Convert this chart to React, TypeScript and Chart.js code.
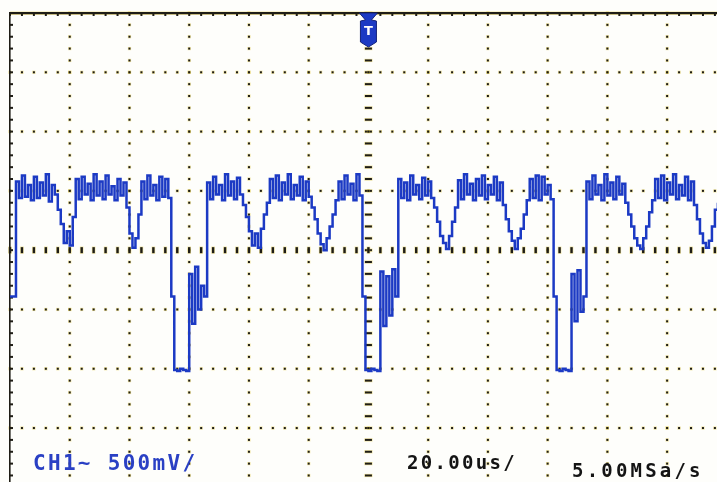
import React, { useEffect, useRef } from "react";
import { Chart, registerables } from "chart.js";

Chart.register(...registerables);

// ---- Time base / view (oscilloscope screen, trigger at centre) ----
const TIME_START_US = -120; // time of first sample
const SAMPLE_STEP_US = 1; // spacing of samples in the trace
const VIEW_TIME_MIN_US = -120;
const VIEW_TIME_MAX_US = 116.7; // photo crops the right edge of the screen
const VIEW_VOLT_MAX = 2.0;
const VIEW_VOLT_MIN = -1.955; // photo crops the bottom edge of the screen
const TIME_PER_DIV_US = 20;
const VOLT_PER_DIV = 0.5;
const SUBDIVS = 5;
const TRIGGER_TIME_US = 0;

// ---- CH1 trace, volts, one sample per microsecond from -120 us ----
const CH1_VOLTS = [
  -0.39, -0.39, 0.58, 0.44, 0.63, 0.45, 0.55, 0.42, 0.62, 0.44, // -120..-111
  0.57, 0.46, 0.64, 0.41, 0.55, 0.47, 0.34, 0.22, 0.06, 0.16, // -110..-101
  0.04, 0.28, 0.6, 0.43, 0.62, 0.47, 0.56, 0.42, 0.64, 0.46, // -100..-91
  0.58, 0.43, 0.63, 0.47, 0.54, 0.42, 0.6, 0.46, 0.57, 0.36, // -90..-81
  0.14, 0.02, 0.1, 0.3, 0.58, 0.43, 0.63, 0.46, 0.55, 0.42, // -80..-71
  0.62, 0.45, 0.6, 0.44, -0.39, -1.01, -1.02, -1.0, -1.01, -1.02, // -70..-61
  -0.2, -0.62, -0.14, -0.5, -0.3, -0.39, 0.57, 0.43, 0.62, 0.47, // -60..-51
  0.55, 0.42, 0.64, 0.46, 0.58, 0.43, 0.61, 0.47, 0.38, 0.28, // -50..-41
  0.16, 0.04, 0.14, 0.02, 0.18, 0.3, 0.4, 0.6, 0.44, 0.63, // -40..-31
  0.42, 0.57, 0.47, 0.64, 0.43, 0.55, 0.46, 0.62, 0.42, 0.58, // -30..-21
  0.45, 0.36, 0.26, 0.14, 0.05, 0.0, 0.1, 0.2, 0.3, 0.42, // -20..-11
  0.58, 0.43, 0.63, 0.47, 0.56, 0.42, 0.64, 0.46, -0.39, -1.01, // -10..-1
  -1.02, -1.0, -1.01, -1.02, -0.18, -0.64, -0.22, -0.55, -0.16, -0.39, // 0..9
  0.6, 0.44, 0.57, 0.42, 0.63, 0.47, 0.55, 0.43, 0.61, 0.46, // 10..19
  0.58, 0.44, 0.36, 0.24, 0.12, 0.06, 0.01, 0.12, 0.24, 0.36, // 20..29
  0.59, 0.43, 0.64, 0.47, 0.56, 0.42, 0.6, 0.46, 0.63, 0.43, // 30..39
  0.55, 0.47, 0.62, 0.42, 0.57, 0.38, 0.26, 0.16, 0.08, 0.01, // 40..49
  0.1, 0.18, 0.3, 0.42, 0.6, 0.44, 0.63, 0.42, 0.62, 0.47, // 50..59
  0.55, 0.43, -0.39, -1.01, -1.02, -1.0, -1.01, -1.02, -0.2, -0.6, // 60..69
  -0.17, -0.52, -0.39, 0.58, 0.43, 0.63, 0.47, 0.55, 0.42, 0.64, // 70..79
  0.46, 0.57, 0.43, 0.62, 0.47, 0.56, 0.4, 0.3, 0.2, 0.1, // 80..89
  0.04, 0.01, 0.1, 0.2, 0.32, 0.42, 0.6, 0.44, 0.63, 0.42, // 90..99
  0.57, 0.47, 0.64, 0.43, 0.55, 0.46, 0.62, 0.42, 0.58, 0.38, // 100..109
  0.26, 0.14, 0.06, 0.02, 0.08, 0.2, 0.34, 0.4, // 110..117
];

// ---- Screen annotations ----
const LABEL_CHANNEL = "CH1~ 500mV/";
const LABEL_TIMEBASE = "20.00us/";
const LABEL_SAMPLE_RATE = "5.00MSa/s";
const TRIGGER_MARK = "T";

const TRACE_COLOR = "#1c3ac4";
const GRID_DARK = "#1f1d16";
const GRID_HALO = "rgba(228, 204, 70, 0.5)";

const graticulePlugin = {
  id: "graticule",
  beforeDatasetsDraw(chart: any) {
    const { ctx, chartArea } = chart;
    const xs = chart.scales.x;
    const ys = chart.scales.y;
    const { left, right, top, bottom } = chartArea;
    ctx.save();
    const mark = (x: number, y: number, w: number, h: number) => {
      ctx.fillStyle = GRID_HALO;
      ctx.fillRect(x - w / 2 - 0.6, y - h / 2 - 0.6, w + 1.2, h + 1.2);
      ctx.fillStyle = GRID_DARK;
      ctx.fillRect(x - w / 2, y - h / 2, w, h);
    };
    const subT = TIME_PER_DIV_US / SUBDIVS;
    const subV = VOLT_PER_DIV / SUBDIVS;
    const nT = Math.floor((VIEW_TIME_MAX_US - VIEW_TIME_MIN_US) / subT + 1e-6);
    const nV = Math.floor((VIEW_VOLT_MAX - VIEW_VOLT_MIN) / subV + 1e-6);
    const nDivT = Math.floor((VIEW_TIME_MAX_US - VIEW_TIME_MIN_US) / TIME_PER_DIV_US);
    const nDivV = Math.floor((VIEW_VOLT_MAX - VIEW_VOLT_MIN) / VOLT_PER_DIV);

    for (let k = 1; k <= nDivT; k++) {
      const t = VIEW_TIME_MIN_US + k * TIME_PER_DIV_US;
      const x = xs.getPixelForValue(t);
      if (x > right) continue;
      const centre = Math.abs(t - TRIGGER_TIME_US) < 1e-6;
      for (let j = 0; j <= nV; j++) {
        const y = ys.getPixelForValue(VIEW_VOLT_MAX - j * subV);
        if (centre) mark(x, y, 7, 2);
        else mark(x, y, 2, 2);
      }
    }
    for (let m = 1; m <= nDivV; m++) {
      const v = VIEW_VOLT_MAX - m * VOLT_PER_DIV;
      const y = ys.getPixelForValue(v);
      const centre = Math.abs(v) < 1e-6;
      for (let j = 0; j <= nT; j++) {
        const x = xs.getPixelForValue(VIEW_TIME_MIN_US + j * subT);
        if (centre) mark(x, y, 2.4, 6);
        else mark(x, y, 2, 2);
      }
    }
    ctx.fillStyle = GRID_HALO;
    ctx.fillRect(left, top - 1.5, right - left, 3.5);
    ctx.fillStyle = GRID_DARK;
    ctx.fillRect(left - 1, top - 1, right - left + 1, 2.2);
    ctx.fillRect(left - 1, top - 1, 1.6, bottom - top + 1);
    for (let j = 0; j <= nT; j++) {
      const x = xs.getPixelForValue(VIEW_TIME_MIN_US + j * subT);
      ctx.fillRect(x - 1, top, 2, 3);
    }
    for (let j = 0; j <= nV; j++) {
      const y = ys.getPixelForValue(VIEW_VOLT_MAX - j * subV);
      ctx.fillRect(left, y - 1, 3, 2);
    }
    ctx.restore();
  },
  afterDatasetsDraw(chart: any) {
    const { ctx, chartArea } = chart;
    const cx = chart.scales.x.getPixelForValue(TRIGGER_TIME_US);
    const top = chartArea.top;
    ctx.save();
    ctx.fillStyle = TRACE_COLOR;
    ctx.beginPath();
    ctx.moveTo(cx - 9, top);
    ctx.lineTo(cx + 9, top);
    ctx.lineTo(cx + 3, top + 7);
    ctx.lineTo(cx + 8, top + 8);
    ctx.lineTo(cx + 8, top + 29);
    ctx.lineTo(cx, top + 34);
    ctx.lineTo(cx - 8, top + 29);
    ctx.lineTo(cx - 8, top + 8);
    ctx.lineTo(cx - 3, top + 7);
    ctx.closePath();
    ctx.fill();
    ctx.strokeStyle = "#14237a";
    ctx.lineWidth = 1;
    ctx.stroke();
    ctx.fillStyle = "#ffffff";
    ctx.font = "bold 13px 'DejaVu Sans'";
    ctx.textAlign = "center";
    ctx.textBaseline = "middle";
    ctx.fillText(TRIGGER_MARK, cx, top + 19);
    ctx.restore();
  },
};

const labelBase: React.CSSProperties = {
  position: "absolute",
  fontFamily: "'DejaVu Sans Mono', monospace",
  fontWeight: "bold",
  whiteSpace: "pre",
  lineHeight: 1,
};

export default function App() {
  const canvasRef = useRef<HTMLCanvasElement | null>(null);

  useEffect(() => {
    const canvas = canvasRef.current;
    if (!canvas) return;
    const points = CH1_VOLTS.map((v, i) => ({
      x: TIME_START_US + i * SAMPLE_STEP_US,
      y: v,
    }));
    const chart = new Chart(canvas, {
      type: "line",
      data: {
        datasets: [
          {
            label: "CH1",
            data: points,
            borderColor: TRACE_COLOR,
            borderWidth: 2.5,
            pointRadius: 0,
            stepped: true,
            tension: 0,
            fill: false,
          },
        ],
      },
      options: {
        animation: false,
        responsive: false,
        events: [],
        layout: { padding: { left: 10, top: 13, right: 0, bottom: 0 } },
        plugins: {
          legend: { display: false },
          tooltip: { enabled: false },
          title: { display: false },
        },
        scales: {
          x: {
            type: "linear",
            min: VIEW_TIME_MIN_US,
            max: VIEW_TIME_MAX_US,
            display: false,
          },
          y: {
            type: "linear",
            min: VIEW_VOLT_MIN,
            max: VIEW_VOLT_MAX,
            display: false,
          },
        },
      },
      plugins: [graticulePlugin],
    });
    return () => chart.destroy();
  }, []);

  return (
    <div
      style={{
        position: "fixed",
        left: 0,
        top: 0,
        width: 717,
        height: 482,
        overflow: "hidden",
        background: "#fefefb",
      }}
    >
      <canvas ref={canvasRef} width={717} height={482} style={{ display: "block" }} />
      <div style={{ ...labelBase, left: 33, top: 453, fontSize: 21, letterSpacing: 2.3, color: "#2a40c4" }}>
        {LABEL_CHANNEL}
      </div>
      <div style={{ ...labelBase, left: 407, top: 453, fontSize: 19, letterSpacing: 2.3, color: "#141414" }}>
        {LABEL_TIMEBASE}
      </div>
      <div style={{ ...labelBase, left: 572, top: 461, fontSize: 19, letterSpacing: 3.2, color: "#141414" }}>
        {LABEL_SAMPLE_RATE}
      </div>
    </div>
  );
}
